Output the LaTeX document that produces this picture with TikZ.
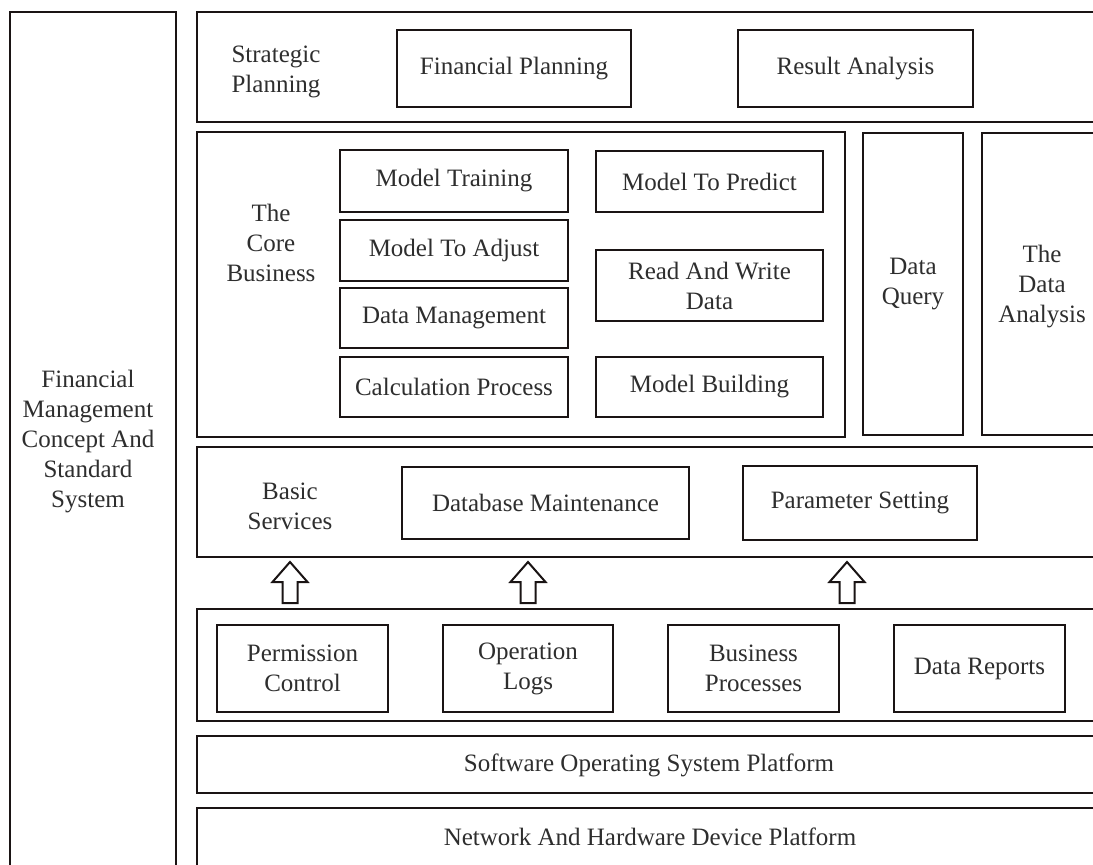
\documentclass[tikz,border=0pt]{standalone}
\usepackage{fontspec}
\setmainfont{Liberation Serif}
\definecolor{boxline}{HTML}{1A1414}
\definecolor{txt}{HTML}{2E2E2E}
\begin{document}
\begin{tikzpicture}[x=1pt,y=-1pt,
  frame/.style={draw=boxline, line width=2.6pt, inner sep=0pt, fill=white},
  item/.style={draw=boxline, line width=2.6pt, inner sep=0pt, fill=white,
    text=txt, font=\fontsize{25}{30}\selectfont, align=center},
  caption/.style={text=txt, font=\fontsize{25}{30}\selectfont, align=center, inner sep=0pt},
  arrowline/.style={draw=boxline, line width=2pt, fill=white, line join=miter},
  pics/uparrow/.style={code={
    \draw[arrowline] (-7.5,0) -- (-7.5,-21) -- (-17.5,-21) -- (0,-41)
      -- (17.5,-21) -- (7.5,-21) -- (7.5,0) -- cycle;}}
]
\useasboundingbox (0,0) rectangle (1093,865);
\clip (0,0) rectangle (1093,865);

% left column: concept and standard system
\node[frame, minimum width=166pt, minimum height=868pt] (concept) at (93,446) {};
\node[caption] (conceptlbl) at (88,442)
  {Financial\\Management\\Concept And\\Standard\\System};

% strategic planning layer
\node[frame, minimum width=913pt, minimum height=110pt] (strategy) at (653.5,67) {};
\node[caption] (strategylbl) at (276,72) {Strategic\\Planning};
\node[item, minimum width=234pt, minimum height=77pt] (finplan) at (514,68.5) {Financial Planning};
\node[item, minimum width=235pt, minimum height=77pt] (result) at (855.5,68.5) {Result Analysis};

% core business layer
\node[frame, minimum width=648pt, minimum height=305pt] (core) at (521,284.5) {};
\node[caption] (corelbl) at (271,243) {The\\Core\\Business};
\node[item, minimum width=228pt, minimum height=62pt] (mtrain) at (454,181) {Model Training};
\node[item, minimum width=228pt, minimum height=61pt] (madjust) at (454,250.5) {Model To Adjust};
\node[item, minimum width=228pt, minimum height=60pt] (dmanage) at (454,318) {Data Management};
\node[item, minimum width=228pt, minimum height=60pt] (calc) at (454,387) {Calculation Process};
\node[item, minimum width=227pt, minimum height=61pt] (mpredict) at (709.5,181.5) {Model To Predict};
\node[item, minimum width=227pt, minimum height=71pt] (rwdata) at (709.5,285.5) {Read And Write\\Data};
\node[item, minimum width=227pt, minimum height=60pt] (mbuild) at (709.5,387) {Model Building};

% query and analysis columns
\node[item, minimum width=100pt, minimum height=302pt] (query) at (913,284) {Data\\Query};
\node[frame, minimum width=128pt, minimum height=302pt] (analysis) at (1046,284) {};
\node[caption] (analysislbl) at (1042,287) {The\\Data\\Analysis};

% basic services layer
\node[frame, minimum width=913pt, minimum height=110pt] (basic) at (653.5,502) {};
\node[caption] (basiclbl) at (290,506) {Basic\\Services};
\node[item, minimum width=287pt, minimum height=72pt] (dbm) at (545.5,503) {Database Maintenance};
\node[item, minimum width=234pt, minimum height=74pt] (param) at (860,503) {Parameter Setting};

% support functions layer
\node[frame, minimum width=913pt, minimum height=112pt] (support) at (653.5,665) {};
\node[item, minimum width=171pt, minimum height=87pt] (perm) at (302.5,668.5) {Permission\\Control};
\node[item, minimum width=170pt, minimum height=87pt] (oplogs) at (528,668.5) {Operation\\Logs};
\node[item, minimum width=171pt, minimum height=87pt] (bproc) at (753.5,668.5) {Business\\Processes};
\node[item, minimum width=171pt, minimum height=87pt] (reports) at (979.5,668.5) {Data Reports};

% hollow arrows from the support layer up to basic services
\coordinate (arrA) at (290,603);
\coordinate (arrB) at (528,603);
\coordinate (arrC) at (847,603);
\pic at (arrA) {uparrow};
\pic at (arrB) {uparrow};
\pic at (arrC) {uparrow};

% platform layers
\node[frame, minimum width=913pt, minimum height=57pt] (software) at (653.5,764.5) {};
\node[caption] (softwarelbl) at (649,765) {Software Operating System Platform};
\node[frame, minimum width=913pt, minimum height=72pt] (network) at (653.5,844) {};
\node[caption] (networklbl) at (650,837) {Network And Hardware Device Platform};
\end{tikzpicture}
\end{document}
